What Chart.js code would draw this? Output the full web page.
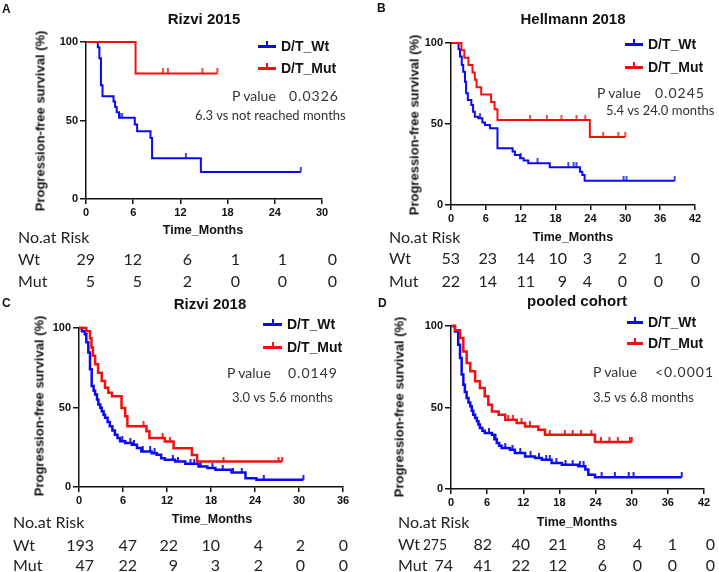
<!DOCTYPE html>
<html>
<head>
<meta charset="utf-8">
<script src="https://cdn.jsdelivr.net/npm/chart.js@4.4.1/dist/chart.umd.min.js"></script>
<style>
    body { margin: 0; background: #fff; }
    #fig { position: relative; width: 719px; height: 572px; overflow: hidden; font-family: "Liberation Sans", Arial, sans-serif; }
    #fig canvas { position: absolute; }
    .txt { position: absolute; white-space: nowrap; line-height: 1; }
    .bold { font-weight: bold; color: #111; }
    .cal { font-family: Lato, "Open Sans", sans-serif; }
</style>
</head>
<body>
<div id="fig"></div>
<script>
const BLUE = "#0a0af0";
const RED = "#f01010";

// ---- A: Rizvi 2015 ----
const aWtTime = [0, 1.5, 1.7, 1.9, 2.1, 3.5, 3.7, 3.9, 4.2, 6.2, 6.5, 8.2, 8.4, 14.6, 27.3];
const aWtSurv = [100, 96.6, 89.7, 72.4, 65.5, 62.1, 58.6, 55.2, 51.7, 47.4, 43.1, 38.8, 25.9, 17.2, 17.2];
const aWtCensor = [4.3, 4.6, 12.7, 27.3];
const aMutTime = [0, 6.3, 16.7];
const aMutSurv = [100, 80, 80];
const aMutCensor = [9.8, 10.4, 14.8, 16.7];
const aRiskWt = ["29", "12", "6", "1", "1", "0"];
const aRiskMut = ["5", "5", "2", "0", "0", "0"];

// ---- B: Hellmann 2018 ----
const bWtTime = [0, 1.3, 1.55, 1.85, 2.1, 2.4, 2.6, 2.9, 3.5, 3.8, 4.1, 4.7, 5.4, 5.85, 6.7, 8.0, 10.6, 11.0, 11.9, 12.5, 13.3, 17.0, 22.2, 22.6, 23.0, 38.5];
const bWtSurv = [100, 96.2, 91.6, 86.4, 82.3, 76.1, 69.0, 64.8, 61.7, 57.6, 54.5, 53.5, 51.0, 49.4, 47.3, 35.0, 33.0, 30.9, 28.8, 27.4, 25.7, 23.3, 20.6, 18.5, 15.0, 15.0];
const bWtCensor = [5.0, 12.0, 14.9, 20.2, 21.1, 21.6, 29.7, 30.2, 38.5];
const bMutTime = [0, 1.8, 2.3, 3.0, 3.7, 4.1, 4.4, 5.2, 6.9, 7.5, 8.0, 23.9, 30.0];
const bMutSurv = [100, 95.5, 90.9, 86.4, 81.8, 77.3, 72.7, 68.2, 63.6, 59.1, 52.5, 42.0, 42.0];
const bMutCensor = [13.6, 16.5, 19.0, 21.6, 23.1, 26.2, 28.8, 30.0];
const bRiskWt = ["53", "23", "14", "10", "3", "2", "1", "0"];
const bRiskMut = ["22", "14", "11", "9", "4", "0", "0", "0"];

// ---- C: Rizvi 2018 ----
const cWtTime = [0, 0.4, 0.8, 1.0, 1.27, 1.5, 1.73, 2.0, 2.2, 2.45, 2.64, 2.9, 3.1, 3.35, 3.55, 3.9, 4.2, 4.55, 4.9, 5.25, 5.6, 6.3, 7.2, 7.9, 8.5, 9.9, 10.6, 11.2, 11.7, 13.1, 14.5, 16.3, 17.5, 18.6, 20.8, 22.7, 24.2, 30.6];
const cWtSurv = [100, 98, 96, 91, 84.6, 74, 63.5, 60.5, 58.2, 55, 51.9, 49.8, 47.7, 45.5, 43.5, 40.9, 38.2, 35.5, 32.9, 30.8, 28.7, 27.7, 26.6, 24.5, 22.4, 21.3, 20.3, 18.1, 17.1, 16.0, 14.6, 12.9, 11.9, 10.8, 9.1, 5.5, 4.5, 4.5];
const cWtCensor = [5.9, 7.0, 7.5, 8.7, 9.7, 10.3, 12.8, 13.5, 15.2, 15.7, 16.6, 18.2, 19.6, 21.0, 22.2, 25.2, 30.6];
const cMutTime = [0, 1.0, 1.5, 1.7, 1.9, 2.2, 2.6, 3.1, 3.55, 4.0, 4.5, 5.8, 6.3, 6.6, 9.2, 9.6, 11.7, 12.9, 15.4, 16.1, 27.7];
const cMutSurv = [100, 97.9, 93.6, 87.8, 82.5, 77.2, 71.9, 66.6, 62.4, 59.2, 57.1, 49.7, 44.5, 38.2, 35.0, 30.8, 28.6, 24.4, 20.2, 16.0, 16.0];
const cMutCensor = [8.8, 11.4, 12.4, 19.7, 27.2, 27.7];
const cRiskWt = ["193", "47", "22", "10", "4", "2", "0"];
const cRiskMut = ["47", "22", "9", "3", "2", "0", "0"];

// ---- D: pooled cohort ----
const dWtTime = [0, 0.66, 1.2, 1.5, 1.77, 2.05, 2.3, 2.6, 2.9, 3.2, 3.45, 3.7, 4.0, 4.3, 4.55, 4.8, 5.2, 5.6, 6.8, 7.2, 7.6, 8.0, 8.4, 9.8, 10.6, 12.3, 13.95, 15.1, 16.7, 18.4, 21.1, 22.3, 22.8, 23.9, 38.3];
const dWtSurv = [100, 96.7, 88.5, 80.4, 70.2, 64, 59.5, 55.8, 53, 50.7, 48, 45.6, 43.5, 41.5, 39.5, 37.4, 35.8, 34.4, 33.3, 30.5, 28.2, 26.5, 25.2, 24.1, 22.1, 20, 19, 18, 16, 14.9, 13.9, 11.9, 8.8, 7.2, 7.2];
const dWtCensor = [6.3, 7.4, 9.0, 10.2, 11.5, 13.2, 14.6, 15.8, 16.4, 17.5, 19.0, 20.2, 21.4, 22.0, 25.0, 27.2, 29.5, 30.3, 38.3];
const dMutTime = [0, 0.66, 1.5, 2.05, 2.6, 3.2, 4.0, 4.8, 5.6, 6.2, 6.8, 7.9, 9.0, 10.9, 12.3, 14.5, 15.6, 23.9, 30.0];
const dMutSurv = [100, 97.4, 92.6, 84.4, 77.3, 72.2, 66.1, 62, 56.9, 51.7, 47.6, 45.6, 42.5, 40.5, 38.4, 36.4, 33.3, 28.8, 28.8];
const dMutCensor = [9.5, 10.3, 11.7, 13.1, 15.6, 16.4, 18.9, 20.2, 21.6, 23.3, 24.9, 26.3, 27.7, 29.7, 30.0];
const dRiskWt = ["275", "82", "40", "21", "8", "4", "1", "0"];
const dRiskMut = ["74", "41", "22", "12", "6", "0", "0", "0"];

const panels = [
    {
        letter: "A", title: "Rizvi 2015", xMax: 30, lw: 2,
        wt: [aWtTime, aWtSurv, aWtCensor], mut: [aMutTime, aMutSurv, aMutCensor],
        pLabel: "P value", pValue: "0.0326", median: "6.3 vs not reached months",
        riskWt: aRiskWt, riskMut: aRiskMut,
        box: {l: 0, t: 0, w: 360, h: 250}, area: {l: 86, r: 322, t: 42, b: 199},
        letterPos: [2, 9], titlePos: [204, 18], yTitle: [40, 121], xTitle: [203, 230],
        legend: [258, 276, 46, 68], pPos: [232, 289, 96], medPos: [195, 115],
        riskLeft: 18, riskY: [237, 259, 281],
        colsWt: [95, 142, 192, 240, 287, 337], colsMut: [95, 142, 192, 240, 287, 337]
    },
    {
        letter: "B", title: "Hellmann 2018", xMax: 42, lw: 2,
        wt: [bWtTime, bWtSurv, bWtCensor], mut: [bMutTime, bMutSurv, bMutCensor],
        pLabel: "P value", pValue: "0.0245", median: "5.4 vs 24.0 months",
        riskWt: bRiskWt, riskMut: bRiskMut,
        box: {l: 360, t: 0, w: 359, h: 250}, area: {l: 451, r: 695, t: 43, b: 205},
        letterPos: [377, 8], titlePos: [573, 18], yTitle: [414, 125], xTitle: [573, 237],
        legend: [625, 643, 44, 67], pPos: [597, 655, 93], medPos: [606, 110],
        riskLeft: 389, riskY: [237, 258, 281],
        colsWt: [460, 497, 535, 567, 592, 627, 663, 700], colsMut: [460, 497, 535, 567, 592, 627, 663, 700]
    },
    {
        letter: "C", title: "Rizvi 2018", xMax: 36, lw: 2.5,
        wt: [cWtTime, cWtSurv, cWtCensor], mut: [cMutTime, cMutSurv, cMutCensor],
        pLabel: "P value", pValue: "0.0149", median: "3.0 vs 5.6 months",
        riskWt: cRiskWt, riskMut: cRiskMut,
        box: {l: 0, t: 290, w: 360, h: 240}, area: {l: 79, r: 343, t: 328, b: 487},
        letterPos: [2, 303], titlePos: [210, 303], yTitle: [39, 406], xTitle: [212, 519],
        legend: [263, 282, 324, 347], pPos: [227, 288, 373], medPos: [232, 397],
        riskLeft: 13, riskY: [522, 545, 565],
        colsWt: [94, 137, 178, 220, 263, 305, 348], colsMut: [94, 137, 178, 220, 263, 305, 348]
    },
    {
        letter: "D", title: "pooled cohort", xMax: 42, lw: 2.5,
        wt: [dWtTime, dWtSurv, dWtCensor], mut: [dMutTime, dMutSurv, dMutCensor],
        pLabel: "P value", pValue: "<0.0001", median: "3.5 vs 6.8 months",
        riskWt: dRiskWt, riskMut: dRiskMut,
        box: {l: 360, t: 290, w: 359, h: 240}, area: {l: 451, r: 704, t: 326, b: 489},
        letterPos: [378, 303], titlePos: [577, 300], yTitle: [399, 407], xTitle: [577, 522],
        legend: [627, 643, 322, 343], pPos: [593, 655, 372], medPos: [593, 397],
        riskLeft: 398, riskY: [522, 544, 565], tightFirst: true,
        colsWt: [447, 492, 530, 567, 606, 642, 677, 715], colsMut: [453, 492, 530, 567, 607, 642, 677, 715]
    }
];

const fig = document.getElementById("fig");

function addText(text, x, y, cls, style, align) {
    const el = document.createElement("div");
    el.className = "txt " + cls;
    el.textContent = text;
    el.style.left = x + "px";
    el.style.top = y + "px";
    const tx = align === "center" ? "-50%" : align === "right" ? "-100%" : "0";
    el.style.transform = `translate(${tx}, -50%)`;
    Object.assign(el.style, style || {});
    fig.appendChild(el);
    return el;
}

function addBox(x, y, w, h, color) {
    const el = document.createElement("div");
    el.style.cssText = `position:absolute;left:${x}px;top:${y}px;width:${w}px;height:${h}px;background:${color};`;
    fig.appendChild(el);
}

// survival level of a step curve at time t
function levelAt(times, surv, t) {
    let v = surv[0];
    for (let i = 0; i < times.length; i++) {
        if (times[i] <= t) v = surv[i];
    }
    return v;
}

// censor mark: short vertical stroke sitting on top of the curve
function tickMark(color, h, w) {
    const c = document.createElement("canvas");
    c.width = 4;
    c.height = h * 2;
    const g = c.getContext("2d");
    g.strokeStyle = color;
    g.lineWidth = w;
    g.beginPath();
    g.moveTo(2, 0);
    g.lineTo(2, h);
    g.stroke();
    return c;
}

function curveSets(series, color, lw) {
    const [times, surv, censor] = series;
    return [
        {
            data: times.map((t, i) => ({x: t, y: surv[i]})),
            borderColor: color, borderWidth: lw, stepped: true,
            pointRadius: 0, fill: false, clip: false
        },
        {
            data: censor.map(t => ({x: t, y: levelAt(times, surv, t)})),
            showLine: false, pointStyle: tickMark(color, 5, lw > 2 ? 1.8 : 1.5),
            pointRadius: 4, borderColor: color, backgroundColor: color, clip: false
        }
    ];
}

const tickFont = {family: "'Liberation Sans', Arial, sans-serif", weight: "bold", size: 11};
const yWidth = 40, xHeight = 30;

panels.forEach(p => {
    const canvas = document.createElement("canvas");
    canvas.width = p.box.w;
    canvas.height = p.box.h;
    canvas.style.left = p.box.l + "px";
    canvas.style.top = p.box.t + "px";
    fig.appendChild(canvas);

    const padding = {
        left: p.area.l - p.box.l - yWidth,
        right: p.box.l + p.box.w - p.area.r,
        top: p.area.t - p.box.t,
        bottom: p.box.t + p.box.h - p.area.b - xHeight
    };

    new Chart(canvas, {
        type: "line",
        data: {
            datasets: [...curveSets(p.mut, RED, p.lw), ...curveSets(p.wt, BLUE, p.lw)]
        },
        options: {
            responsive: false,
            animation: false,
            devicePixelRatio: 1,
            events: [],
            layout: {padding: padding},
            plugins: {legend: {display: false}, tooltip: {enabled: false}},
            scales: {
                x: {
                    type: "linear", min: 0, max: p.xMax,
                    ticks: {stepSize: 6, font: tickFont, color: "#111", padding: 2, maxRotation: 0, autoSkip: false},
                    grid: {drawOnChartArea: false, tickLength: 5, color: "#111", lineWidth: 1.5},
                    border: {color: "#111", width: 1.5},
                    afterFit(s) { s.height = xHeight; s.paddingLeft = 0; s.paddingRight = 0; }
                },
                y: {
                    min: 0, max: 100,
                    ticks: {stepSize: 50, font: tickFont, color: "#111", padding: 2},
                    grid: {drawOnChartArea: false, tickLength: 6, color: "#111", lineWidth: 1.5},
                    border: {color: "#111", width: 1.5},
                    afterFit(s) { s.width = yWidth; s.paddingTop = 0; s.paddingBottom = 0; }
                }
            }
        }
    });

    // headings and axis titles
    addText(p.letter, p.letterPos[0], p.letterPos[1], "bold", {fontSize: "12px"}, "left");
    addText(p.title, p.titlePos[0], p.titlePos[1], "bold", {fontSize: "15px"}, "center");
    const yt = addText("Progression-free survival (%)", p.yTitle[0], p.yTitle[1], "bold", {fontSize: "13px"}, "left");
    yt.style.transform = "translate(-50%, -50%) rotate(-90deg)";
    addText("Time_Months", p.xTitle[0], p.xTitle[1], "bold", {fontSize: "12.5px"}, "center");

    // legend
    const [lx1, lx2, ly1, ly2] = p.legend;
    [[ly1, BLUE, "D/T_Wt"], [ly2, RED, "D/T_Mut"]].forEach(([ly, col, label]) => {
        addBox(lx1, ly - 1, lx2 - lx1, 2.5, col);
        addBox((lx1 + lx2) / 2 - 1, ly - 5, 2, 5, col);
        addText(label, lx2 + 5, ly, "bold", {fontSize: "14px"}, "left");
    });

    // p value and medians
    addText(p.pLabel, p.pPos[0], p.pPos[2], "cal", {fontSize: "14px", color: "#333"}, "left");
    addText(p.pValue, p.pPos[1], p.pPos[2], "cal", {fontSize: "14px", color: "#333", letterSpacing: "1px"}, "left");
    addText(p.median, p.medPos[0], p.medPos[1], "cal", {fontSize: "13px", color: "#333"}, "left");

    // number at risk
    const riskStyle = {fontSize: "16px", color: "#222"};
    addText("No.at Risk", p.riskLeft, p.riskY[0], "cal", riskStyle, "left");
    addText("Wt", p.riskLeft, p.riskY[1], "cal", riskStyle, "left");
    addText("Mut", p.riskLeft, p.riskY[2], "cal", riskStyle, "left");
    p.colsWt.forEach((cx, i) => {
        const el = addText(p.riskWt[i], cx, p.riskY[1], "cal", riskStyle, "right");
        if (i === 0 && p.tightFirst) {
            // the first pooled count is set narrower in the source
            el.style.transformOrigin = "right center";
            el.style.transform = "translate(-100%, -50%) scaleX(0.86)";
        }
    });
    p.colsMut.forEach((cx, i) => {
        addText(p.riskMut[i], cx, p.riskY[2], "cal", riskStyle, "right");
    });
});
</script>
</body>
</html>
